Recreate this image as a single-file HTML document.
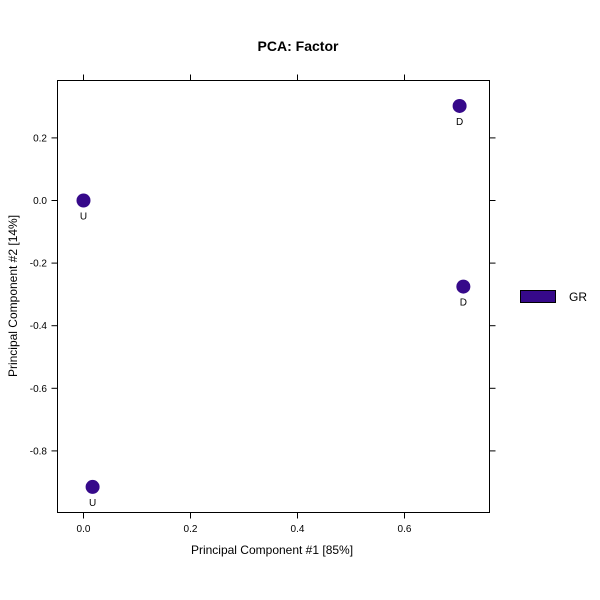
<!DOCTYPE html>
<html><head><meta charset="utf-8"><style>body{margin:0;background:#fff}svg{display:block}text{font-family:"Liberation Sans",Arial,sans-serif}</style></head>
<body>
<svg id="c" width="600" height="600" viewBox="0 0 600 600">
<text x="298" y="51" text-anchor="middle" font-size="14" font-weight="bold">PCA: Factor</text>
<rect x="57.5" y="80.5" width="432" height="432" fill="none" stroke="#000"/>
<g id="ax"></g><g id="pts"></g>
<text x="272" y="554" text-anchor="middle" font-size="12">Principal Component #1 [85%]</text>
<text transform="translate(17,296) rotate(-90)" text-anchor="middle" font-size="12">Principal Component #2 [14%]</text>
<rect x="520.5" y="290.5" width="35" height="12" fill="#36098a" stroke="#000"/>
<text x="569" y="301" font-size="12">GR</text>
</svg>
<script>
const xTicks=[0,0.2,0.4,0.6];
const xTickLabels=["0.0","0.2","0.4","0.6"];
const yTicks=[0.2,0,-0.2,-0.4,-0.6,-0.8];
const yTickLabels=["0.2","0.0","-0.2","-0.4","-0.6","-0.8"];
const pc1=[0,0.703,0.710,0.017];
const pc2=[0,0.302,-0.275,-0.915];
const labels=["U","D","D","U"];
const NS="http://www.w3.org/2000/svg";
const sx=v=>83.5+v*535;
const sy=v=>200.5-v*313;
function mk(t,a,p){const e=document.createElementNS(NS,t);for(const k in a)e.setAttribute(k,a[k]);p.appendChild(e);return e;}
const ax=document.getElementById('ax'),pts=document.getElementById('pts');
xTicks.forEach((v,i)=>{const x=sx(v);
 let l=mk('line',{x1:x,x2:x,y1:512.5,y2:518.5,stroke:'#000'},ax);
 
 let l2=mk('line',{x1:x,x2:x,y1:80.5,y2:74.5,stroke:'#000'},ax);
 
 let t=mk('text',{x:x,y:532,'text-anchor':'middle','font-size':10},ax);t.textContent=xTickLabels[i];
 });
yTicks.forEach((v,i)=>{const y=sy(v);
 let l=mk('line',{x1:51.5,x2:57.5,y1:y,y2:y,stroke:'#000'},ax);
 
 let l2=mk('line',{x1:489.5,x2:495.5,y1:y,y2:y,stroke:'#000'},ax);
 
 let t=mk('text',{x:47,y:y+3.5,'text-anchor':'end','font-size':10},ax);t.textContent=yTickLabels[i];
 });
pc1.forEach((v,i)=>{const x=sx(v),y=sy(pc2[i]);
 let c=mk('circle',{cx:x,cy:y,r:7,fill:'#36098a'},pts);
 
 let t=mk('text',{x:x,y:y+19,'text-anchor':'middle','font-size':10},pts);t.textContent=labels[i];
 });
</script>
</body></html>
